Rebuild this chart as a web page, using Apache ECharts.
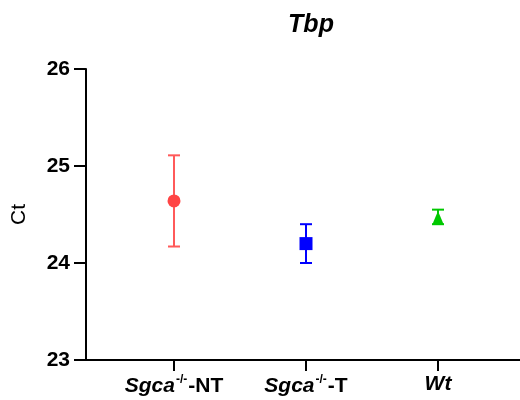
<!DOCTYPE html>
<html><head><meta charset="utf-8">
<script src="https://cdn.jsdelivr.net/npm/echarts@6/dist/echarts.min.js"></script>
<style>html,body{margin:0;padding:0;background:#fff}#c{width:520px;height:400px}</style>
</head><body><div id="c"></div>
<script>
var categories = ['Sgca-/- -NT', 'Sgca-/- -T', 'Wt'];
var positions = [1, 2, 3];
var means = [24.64, 24.20, 24.47];
var errLow = [24.17, 24.00, 24.40];
var errHigh = [25.11, 24.40, 24.55];
var colors = ['#FF4545', '#0000FF', '#00C800'];
var barColors = ['#FF5A5A', '#0000FF', '#00C800'];
var symbols = ['circle', 'rect', 'triangle'];
var yTicks = [23, 24, 25, 26];

var chart = echarts.init(document.getElementById('c'));
var font = 'Liberation Sans, Arial, sans-serif';

var errData = positions.map(function (p, i) { return [p, errLow[i], errHigh[i], i]; });
var series = [{
  type: 'custom',
  data: errData,
  z: 2,
  renderItem: function (params, api) {
    var x = api.value(0), lo = api.value(1), hi = api.value(2), idx = api.value(3);
    var pLo = api.coord([x, lo]), pHi = api.coord([x, hi]);
    var hw = 6;
    var st = { stroke: barColors[idx], lineWidth: 2 };
    return { type: 'group', children: [
      { type: 'line', shape: { x1: pLo[0], y1: pLo[1], x2: pHi[0], y2: pHi[1] }, style: st },
      { type: 'line', shape: { x1: pLo[0] - hw, y1: pLo[1], x2: pLo[0] + hw, y2: pLo[1] }, style: st },
      { type: 'line', shape: { x1: pHi[0] - hw, y1: pHi[1], x2: pHi[0] + hw, y2: pHi[1] }, style: st }
    ]};
  }
}];
positions.forEach(function (p, i) {
  series.push({
    type: 'scatter', z: 3,
    data: [[p, means[i]]],
    symbol: symbols[i],
    symbolSize: i === 2 ? [11, 13] : 13,
    itemStyle: { color: colors[i], opacity: 1 }
  });
});

var labelMap = {
  1: '{i|Sgca}{s|-/-}{b|-NT}',
  2: '{i|Sgca}{s|-/-}{b|-T}',
  3: '{i|Wt}'
};

chart.setOption({
  animation: false,
  title: { text: 'Tbp', left: 306, textAlign: 'center', top: 8,
    textStyle: { fontFamily: font, fontSize: 25, fontWeight: 'bold', fontStyle: 'italic', color: '#000' } },
  grid: { left: 86, right: 0, top: 69, bottom: 40 },
  xAxis: {
    type: 'value', min: 1 - 88 / 132, max: 3 + 82 / 132,
    splitLine: { show: false },
    axisLine: { show: true, lineStyle: { color: '#000', width: 2 } },
    axisTick: { show: true, customValues: positions, length: 11, lineStyle: { color: '#000', width: 2 } },
    axisLabel: {
      customValues: positions, margin: 14,
      formatter: function (v) { return labelMap[Math.round(v)] || ''; },
      rich: {
        i: { fontFamily: font, fontSize: 21, fontWeight: 'bold', fontStyle: 'italic', color: '#000' },
        s: { fontFamily: font, fontSize: 12, fontWeight: 'bold', color: '#000', verticalAlign: 'top', padding: [0, 1, 12, 1] },
        b: { fontFamily: font, fontSize: 21, fontWeight: 'bold', color: '#000' }
      }
    }
  },
  yAxis: {
    type: 'value', min: 23, max: 26, interval: 1,
    name: 'Ct', nameLocation: 'middle', nameGap: 56, nameRotate: 90,
    nameTextStyle: { fontFamily: font, fontSize: 21, color: '#000' },
    splitLine: { show: false },
    axisLine: { show: true, lineStyle: { color: '#000', width: 2 } },
    axisTick: { show: true, length: 12, lineStyle: { color: '#000', width: 2 } },
    axisLabel: { fontFamily: font, fontSize: 21, fontWeight: 'bold', color: '#000', margin: 16,
      formatter: function (v) { return yTicks.indexOf(v) >= 0 ? String(v) : ''; } }
  },
  series: series
});
</script></body></html>
